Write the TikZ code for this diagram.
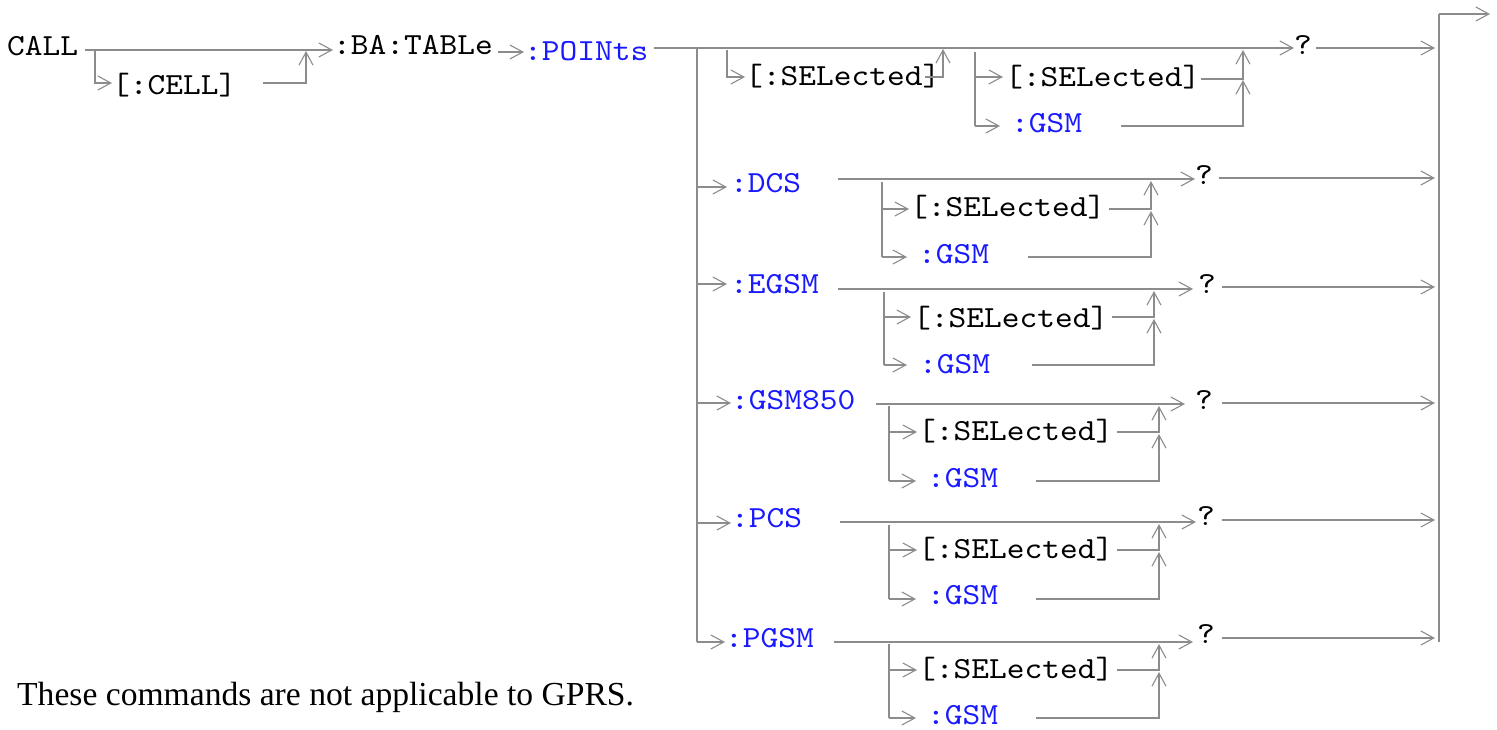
\documentclass[tikz,border=0pt]{standalone}
\usepackage{fontspec}
\newfontfamily\cour[FakeStretch=1.1]{lmmono10-regular.otf}
\newfontfamily\notefont{Liberation Serif}
\usetikzlibrary{arrows.meta}
\definecolor{kw}{RGB}{25,25,255}
\definecolor{ln}{RGB}{140,140,140}
\tikzset{
  wire/.style={draw=ln, line width=1.7pt},
  arr/.style={wire, -{Straight Barb[length=13pt,width=14pt,line width=1.1pt]}},
  txt/.style={anchor=base west, inner sep=0pt, font=\cour\fontsize{30.7}{31}\selectfont},
  kwd/.style={txt, text=kw},
}
\begin{document}
\begin{tikzpicture}[x=1pt,y=-1pt]
\useasboundingbox (0,0) rectangle (1497,730);
% ---- text nodes
\node[txt] (call) at (7,56) {CALL};
\node[txt] (cell) at (112,95) {[:CELL]};
\node[txt] (bat) at (333,55) {:BA:TABLe};
\node[kwd] (pts) at (524,61) {:POINts};
\node[txt] (s0a) at (745,86) {[:SELected]};
\node[txt] (s0b) at (1005,87) {[:SELected]};
\node[kwd] (g0) at (1011,133) {:GSM};
\node[txt] (q0) at (1294,55) {?};
\node[kwd] (dcs) at (730,193) {:DCS};
\node[txt] (s1) at (910,217) {[:SELected]};
\node[kwd] (g1) at (918,263) {:GSM};
\node[txt] (q1) at (1195,185) {?};
\node[kwd] (egsm) at (730,294) {:EGSM};
\node[txt] (s2) at (913,327) {[:SELected]};
\node[kwd] (g2) at (919,373) {:GSM};
\node[txt] (q2) at (1198,293) {?};
\node[kwd] (g850) at (731,409) {:GSM850};
\node[txt] (s3) at (918,440) {[:SELected]};
\node[kwd] (g3) at (927,487) {:GSM};
\node[txt] (q3) at (1195,409) {?};
\node[kwd] (pcs) at (731,527) {:PCS};
\node[txt] (s4) at (918,558) {[:SELected]};
\node[kwd] (g4) at (927,604) {:GSM};
\node[txt] (q4) at (1197,525) {?};
\node[kwd] (pgsm) at (725,647) {:PGSM};
\node[txt] (s5) at (918,678) {[:SELected]};
\node[kwd] (g5) at (927,724) {:GSM};
\node[txt] (q5) at (1197,643) {?};
\node[anchor=base west, inner sep=0pt, font=\notefont\fontsize{33.6}{36}\selectfont] (note) at (17,705) {These commands are not applicable to GPRS.};
% ---- junction coordinates
\coordinate (rtop) at (1439,14);
\coordinate (rbot) at (1439,642);
\coordinate (exit) at (1490,14);
% ---- CALL row
\draw[arr] (85,50) -- (333,50);
\draw[arr] (95,50) -- (95,83) -- (112,83);
\draw[arr] (263,83) -- (306,83) -- (306,51);
\draw[arr] (498,52) -- (524,52);
\draw[arr] (654,48) -- (1294,48);
\draw[wire] (697,48) -- (697,642);
% first SELected bypass
\draw[arr] (727,50) -- (727,77) -- (745,77);
\draw[arr] (925,77) -- (943,77) -- (943,49);
% second group
\draw[wire] (975,52) -- (975,126);
\draw[arr] (975,77) -- (1003,77);
\draw[arr] (975,126) -- (1000,126);
\draw[arr] (1201,79) -- (1243,79) -- (1243,50);
\draw[arr] (1121,126) -- (1243,126) -- (1243,80);
\draw[arr] (1316,48) -- (1435,48);
% right rail
\draw[wire] (rbot) -- (rtop);
\draw[arr] (rtop) -- (exit);
% ---- DCS row
\draw[arr] (697,187) -- (727,187);
\draw[arr] (838,179) -- (1195,179);
\draw[wire] (882,182) -- (882,257);
\draw[arr] (882,209) -- (909,209);
\draw[arr] (882,257) -- (907,257);
\draw[arr] (1109,209) -- (1151,209) -- (1151,181);
\draw[arr] (1028,257) -- (1151,257) -- (1151,211);
\draw[arr] (1219,178) -- (1435,178);
% ---- EGSM row
\draw[arr] (697,284) -- (727,284);
\draw[arr] (838,289) -- (1193,289);
\draw[wire] (884,292) -- (884,365);
\draw[arr] (884,317) -- (911,317);
\draw[arr] (884,365) -- (907,365);
\draw[arr] (1112,317) -- (1154,317) -- (1154,291);
\draw[arr] (1032,365) -- (1154,365) -- (1154,319);
\draw[arr] (1222,287) -- (1435,287);
% ---- GSM850 row
\draw[arr] (697,403) -- (731,403);
\draw[arr] (876,404) -- (1185,404);
\draw[wire] (889,406) -- (889,481);
\draw[arr] (889,432) -- (917,432);
\draw[arr] (889,481) -- (916,481);
\draw[arr] (1117,432) -- (1159,432) -- (1159,406);
\draw[arr] (1036,481) -- (1159,481) -- (1159,434);
\draw[arr] (1222,403) -- (1435,403);
% ---- PCS row
\draw[arr] (697,523) -- (731,523);
\draw[arr] (840,522) -- (1196,522);
\draw[wire] (889,525) -- (889,599);
\draw[arr] (889,550) -- (917,550);
\draw[arr] (889,599) -- (916,599);
\draw[arr] (1117,550) -- (1159,550) -- (1159,524);
\draw[arr] (1036,599) -- (1159,599) -- (1159,552);
\draw[arr] (1222,520) -- (1435,520);
% ---- PGSM row
\draw[arr] (697,642) -- (725,642);
\draw[arr] (834,642) -- (1193,642);
\draw[wire] (889,644) -- (889,718);
\draw[arr] (889,670) -- (917,670);
\draw[arr] (889,718) -- (916,718);
\draw[arr] (1117,670) -- (1159,670) -- (1159,644);
\draw[arr] (1036,718) -- (1159,718) -- (1159,672);
\draw[arr] (1222,638) -- (1435,638);
\end{tikzpicture}
\end{document}
